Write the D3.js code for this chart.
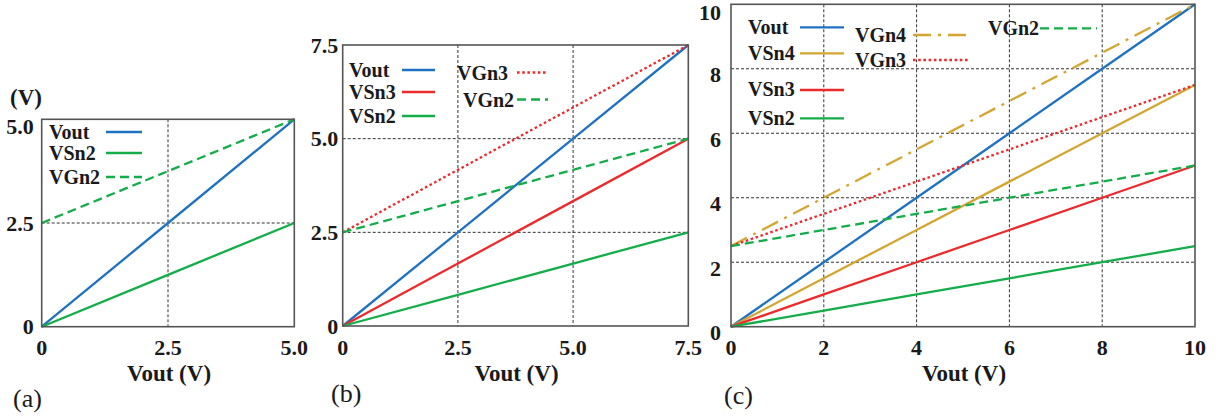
<!DOCTYPE html>
<html>
<head>
<meta charset="utf-8">
<script src="https://cdn.jsdelivr.net/npm/d3@7"></script>
<style>
  html, body { margin: 0; padding: 0; background: #fff; }
  svg { display: block; }
</style>
</head>
<body>
<svg id="chart" width="1223" height="417" font-family="'Liberation Serif', 'Times New Roman', serif"></svg>
<script>
// ---- data: node voltages versus Vout ----
// (a) two-stage stack, 0..5 V
const xA = [0, 2.5, 5.0];
const voutA = [0, 2.5, 5.0];
const vsn2A = [0, 1.25, 2.5];
const vgn2A = [2.5, 3.75, 5.0];
const ticksA = [0, 2.5, 5.0];
const tickLabelsA = ["0", "2.5", "5.0"];

// (b) three-stage stack, 0..7.5 V
const xB = [0, 2.5, 5.0, 7.5];
const voutB = [0, 2.5, 5.0, 7.5];
const vsn3B = [0, 1.667, 3.333, 5.0];
const vsn2B = [0, 0.833, 1.667, 2.5];
const vgn3B = [2.5, 4.167, 5.833, 7.5];
const vgn2B = [2.5, 3.333, 4.167, 5.0];
const ticksB = [0, 2.5, 5.0, 7.5];
const tickLabelsB = ["0", "2.5", "5.0", "7.5"];

// (c) four-stage stack, 0..10 V
const xC = [0, 2, 4, 6, 8, 10];
const voutC = [0, 2, 4, 6, 8, 10];
const vsn4C = [0, 1.5, 3, 4.5, 6, 7.5];
const vsn3C = [0, 1, 2, 3, 4, 5];
const vsn2C = [0, 0.5, 1, 1.5, 2, 2.5];
const vgn4C = [2.5, 4, 5.5, 7, 8.5, 10];
const vgn3C = [2.5, 3.5, 4.5, 5.5, 6.5, 7.5];
const vgn2C = [2.5, 3, 3.5, 4, 4.5, 5];
const ticksC = [0, 2, 4, 6, 8, 10];
const tickLabelsC = ["0", "2", "4", "6", "8", "10"];

// ---- line styles ----
const BLUE = "#1f72c2", GREEN = "#14ad4a", RED = "#ec2a2c", GOLD = "#d4a531";
const styles = {
  Vout: { color: BLUE,  dash: null },
  VSn4: { color: GOLD,  dash: null },
  VSn3: { color: RED,   dash: null },
  VSn2: { color: GREEN, dash: null },
  VGn4: { color: GOLD,  dash: "18,7,3,7" },
  VGn3: { color: RED,   dash: "2.6,2.6" },
  VGn2: { color: GREEN, dash: "9,5" }
};

const svg = d3.select("#chart");
const TXT = "#1a1a1a";

function drawPanel(p) {
  const x = d3.scaleLinear().domain([0, p.max]).range([p.left, p.right]);
  const y = d3.scaleLinear().domain([0, p.max]).range([p.bottom, p.top]);
  const g = svg.append("g");

  // dotted grid at the inner ticks
  const inner = p.ticks.filter(t => t > 0 && t < p.max);
  g.selectAll(".vg").data(inner).join("line")
    .attr("x1", d => x(d)).attr("x2", d => x(d))
    .attr("y1", p.top).attr("y2", p.bottom)
    .attr("stroke", "#333").attr("stroke-width", 1).attr("stroke-dasharray", "3,2");
  g.selectAll(".hg").data(inner).join("line")
    .attr("x1", p.left).attr("x2", p.right)
    .attr("y1", d => y(d)).attr("y2", d => y(d))
    .attr("stroke", "#333").attr("stroke-width", 1).attr("stroke-dasharray", "3,2");

  // series
  const line = d3.line().x(d => x(d[0])).y(d => y(d[1]));
  p.series.forEach(s => {
    const st = styles[s.name];
    g.append("path")
      .datum(p.xs.map((v, i) => [v, s.values[i]]))
      .attr("d", line)
      .attr("fill", "none")
      .attr("stroke", st.color)
      .attr("stroke-width", 2.3)
      .attr("stroke-dasharray", st.dash);
  });

  // frame
  g.append("rect")
    .attr("x", p.left).attr("y", p.top)
    .attr("width", p.right - p.left).attr("height", p.bottom - p.top)
    .attr("fill", "none").attr("stroke", "#555").attr("stroke-width", 1.6);

  // x tick labels
  g.selectAll(".xt").data(p.ticks).join("text")
    .attr("x", d => x(d)).attr("y", 347)
    .attr("text-anchor", "middle").attr("dominant-baseline", "central")
    .attr("font-size", 22).attr("font-weight", "bold").attr("fill", TXT)
    .text((d, i) => p.tickLabels[i]);

  // y tick labels
  g.selectAll(".yt").data(p.ticks).join("text")
    .attr("x", p.left - p.yGap)
    .attr("y", d => Math.max(y(d) + p.yShift, p.top + p.topMin))
    .attr("text-anchor", "end").attr("dominant-baseline", "central")
    .attr("font-size", 22).attr("font-weight", "bold").attr("fill", TXT)
    .text((d, i) => p.tickLabels[i]);

  // axis title
  g.append("text")
    .attr("x", (p.left + p.right) / 2 + 1).attr("y", 373)
    .attr("text-anchor", "middle").attr("dominant-baseline", "central")
    .attr("font-size", 23).attr("font-weight", "bold").attr("fill", TXT)
    .text("Vout (V)");

  // panel tag
  g.append("text")
    .attr("x", p.tag.x).attr("y", p.tag.y)
    .attr("dominant-baseline", "central")
    .attr("font-size", 26).attr("fill", TXT)
    .text(p.tag.text);

  // legend
  p.legend.forEach(e => {
    const st = styles[e.name];
    g.append("text")
      .attr("x", e.tx).attr("y", e.y)
      .attr("dominant-baseline", "central")
      .attr("font-size", 20).attr("font-weight", "bold").attr("fill", TXT)
      .text(e.name);
    g.append("line")
      .attr("x1", e.x1).attr("x2", e.x2)
      .attr("y1", e.ly).attr("y2", e.ly)
      .attr("stroke", st.color).attr("stroke-width", 2.3)
      .attr("stroke-dasharray", st.dash);
  });
}

drawPanel({
  max: 5, left: 41.7, right: 294.3, top: 119.3, bottom: 326.7,
  yGap: 8, yShift: 0, topMin: 7,
  xs: xA, ticks: ticksA, tickLabels: tickLabelsA,
  series: [
    { name: "Vout", values: voutA },
    { name: "VSn2", values: vsn2A },
    { name: "VGn2", values: vgn2A }
  ],
  legend: [
    { name: "Vout", tx: 49, y: 132, ly: 132, x1: 106, x2: 142 },
    { name: "VSn2", tx: 49, y: 153, ly: 153, x1: 106, x2: 142 },
    { name: "VGn2", tx: 49, y: 177, ly: 177, x1: 106, x2: 142 }
  ],
  tag: { text: "(a)", x: 13, y: 398 }
});

drawPanel({
  max: 7.5, left: 342.7, right: 688.3, top: 45, bottom: 326,
  yGap: 4.5, yShift: 0, topMin: 0,
  xs: xB, ticks: ticksB, tickLabels: tickLabelsB,
  series: [
    { name: "Vout", values: voutB },
    { name: "VSn3", values: vsn3B },
    { name: "VSn2", values: vsn2B },
    { name: "VGn3", values: vgn3B },
    { name: "VGn2", values: vgn2B }
  ],
  legend: [
    { name: "Vout", tx: 349, y: 70, ly: 70, x1: 402, x2: 435 },
    { name: "VSn3", tx: 349, y: 92, ly: 92, x1: 402, x2: 435 },
    { name: "VSn2", tx: 349, y: 116, ly: 116, x1: 402, x2: 435 },
    { name: "VGn3", tx: 457, y: 73, ly: 72.5, x1: 517, x2: 548 },
    { name: "VGn2", tx: 463, y: 100, ly: 99.5, x1: 517, x2: 548 }
  ],
  tag: { text: "(b)", x: 331, y: 393 }
});

drawPanel({
  max: 10, left: 731, right: 1195, top: 4.3, bottom: 326.7,
  yGap: 10, yShift: 6, topMin: 8,
  xs: xC, ticks: ticksC, tickLabels: tickLabelsC,
  series: [
    { name: "Vout", values: voutC },
    { name: "VSn4", values: vsn4C },
    { name: "VSn3", values: vsn3C },
    { name: "VSn2", values: vsn2C },
    { name: "VGn4", values: vgn4C },
    { name: "VGn3", values: vgn3C },
    { name: "VGn2", values: vgn2C }
  ],
  legend: [
    { name: "Vout", tx: 748, y: 27, ly: 27.3, x1: 800, x2: 844 },
    { name: "VSn4", tx: 748, y: 53, ly: 53.3, x1: 800, x2: 844 },
    { name: "VSn3", tx: 748, y: 89, ly: 90, x1: 800, x2: 844 },
    { name: "VSn2", tx: 748, y: 118, ly: 118.3, x1: 800, x2: 844 },
    { name: "VGn4", tx: 855, y: 35, ly: 35, x1: 913, x2: 970 },
    { name: "VGn3", tx: 855, y: 60, ly: 60, x1: 913, x2: 970 },
    { name: "VGn2", tx: 988, y: 28, ly: 28.3, x1: 1040, x2: 1097 }
  ],
  tag: { text: "(c)", x: 724, y: 395 }
});

// unit label above panel (a)
svg.append("text")
  .attr("x", 10).attr("y", 97)
  .attr("dominant-baseline", "central")
  .attr("font-size", 23).attr("font-weight", "bold").attr("fill", TXT)
  .text("(V)");
</script>
</body>
</html>
